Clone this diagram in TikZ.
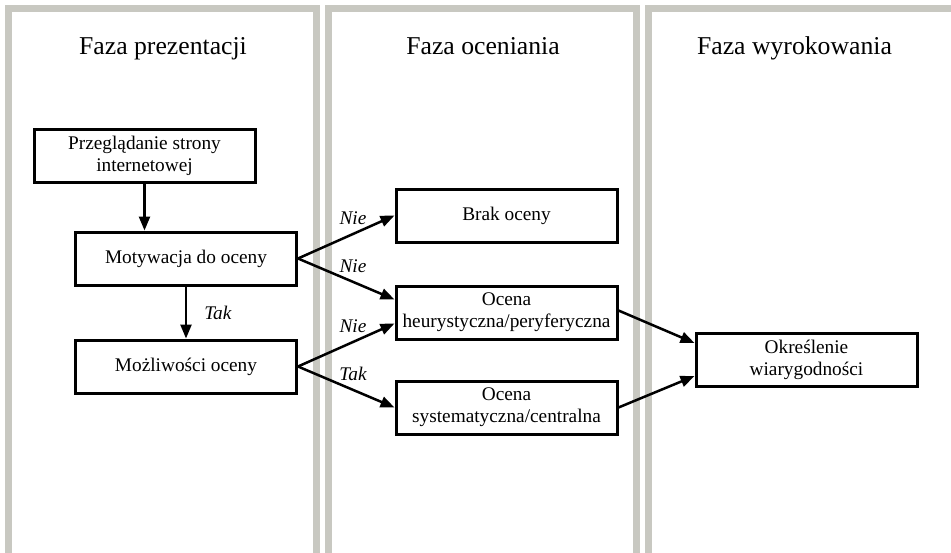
\documentclass[tikz,border=0pt]{standalone}
\usepackage{fontspec}
\setmainfont{Liberation Serif}
\usetikzlibrary{arrows.meta, positioning}
\definecolor{panelgray}{RGB}{200,200,193}

\begin{document}
\begin{tikzpicture}[x=1pt, y=-1pt,
        box/.style={draw, line width=3pt, minimum width=221pt, minimum height=53pt,
            align=center, inner sep=2pt, font=\fontsize{19.3}{22}\selectfont},
        head/.style={anchor=base, font=\fontsize{25.7}{30}\selectfont},
        lbl/.style={inner sep=2pt, font=\itshape\fontsize{19.3}{22}\selectfont},
        arr/.style={line width=2.5pt, -{Triangle[length=14pt,width=11pt]}},
        panel/.style={draw=panelgray, line width=7pt}]
    \clip (0,0) rectangle (951,552);
    \fill[white] (0,0) rectangle (951,552);

    % panels
    \draw[panel] (8,570) -- (8,8) -- (316.5,8) -- (316.5,570);
    \draw[panel] (328.5,570) -- (328.5,8) -- (636.5,8) -- (636.5,570);
    \draw[panel] (648.5,570) -- (648.5,8) -- (970,8);

    \node[head] (h1) at (163,54)   {Faza prezentacji};
    \node[head] (h2) at (483,54)   {Faza oceniania};
    \node[head] (h3) at (794.5,54) {Faza wyrokowania};

    % boxes
    \node[box] (przeg) at (144.5,156)  {Przeglądanie strony\\internetowej};
    \node[box] (motyw) at (186,258.5)  {Motywacja do oceny};
    \node[box] (mozl)  [below=52pt of motyw] {Możliwości oceny};
    \node[box] (brak)  at (506.5,215.5) {Brak oceny};
    \node[box] (heur)  [below=41pt of brak] {Ocena\\heurystyczna/peryferyczna};
    \node[box] (sys)   [below=39pt of heur] {Ocena\\systematyczna/centralna};
    \node[box] (okr)   at (806.5,360)  {Określenie\\wiarygodności};

    % connectors
    \draw[arr] (przeg.south) -- (przeg.south |- motyw.north);
    \draw[arr] (motyw.south) -- (mozl.north) node[lbl, midway, right=15pt] {Tak};
    \draw[arr] (motyw.east) -- (brak.west) node[lbl, pos=0.57, above=6pt] {Nie};
    \draw[arr] (motyw.east) -- ([yshift=13pt]heur.west) node[lbl, pos=0.57, above=6pt] {Nie};
    \draw[arr] (mozl.east) -- ([yshift=-11pt]heur.west) node[lbl, pos=0.57, above=6pt] {Nie};
    \draw[arr] (mozl.east) -- (sys.west) node[lbl, pos=0.57, above=6pt] {Tak};
    \draw[arr] ([yshift=2pt]heur.east) -- ([yshift=17pt]okr.west);
    \draw[arr] (sys.east) -- ([yshift=-16pt]okr.west);
\end{tikzpicture}
\end{document}
